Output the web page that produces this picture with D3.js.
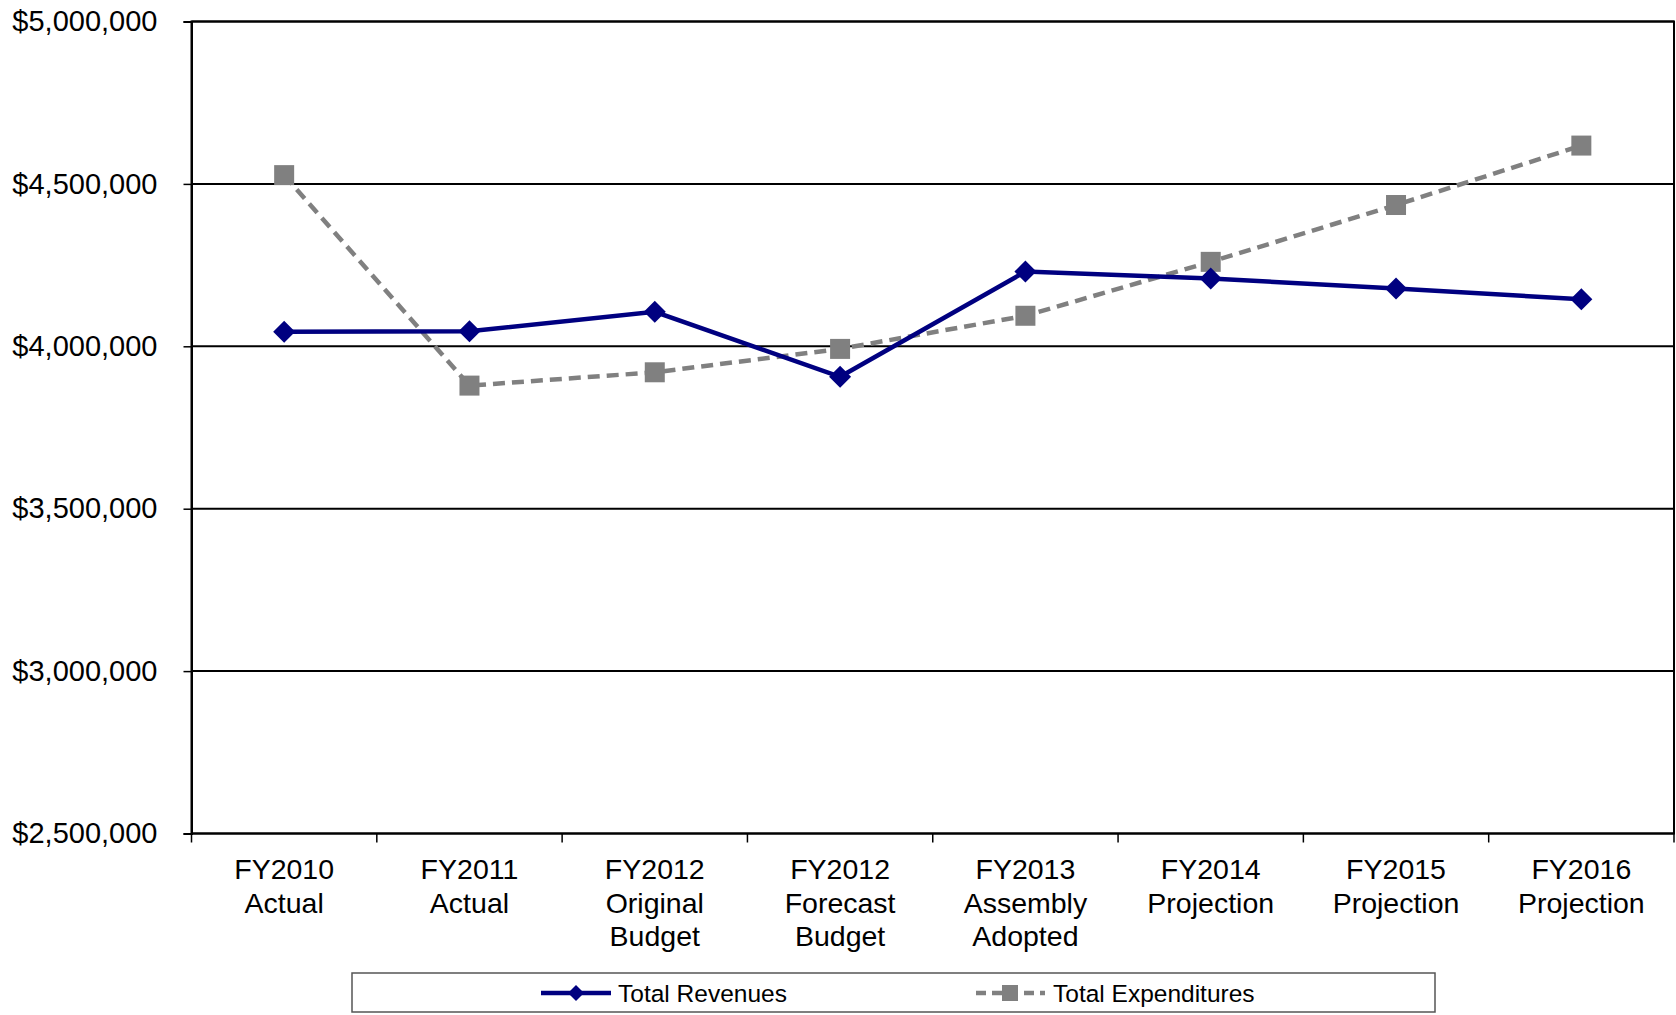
<!DOCTYPE html>
<html>
<head>
<meta charset="utf-8">
<script src="https://cdn.jsdelivr.net/npm/d3@7"></script>
<style>
  html, body { margin: 0; padding: 0; background: #fff; }
  svg { display: block; font-family: "Liberation Sans", Arial, sans-serif; }
</style>
</head>
<body>
<svg id="chart" width="1676" height="1015"></svg>
<script>
const categories = [
  ["FY2010", "Actual"],
  ["FY2011", "Actual"],
  ["FY2012", "Original", "Budget"],
  ["FY2012", "Forecast", "Budget"],
  ["FY2013", "Assembly", "Adopted"],
  ["FY2014", "Projection"],
  ["FY2015", "Projection"],
  ["FY2016", "Projection"]
];
const totalRevenues = [4045000, 4046000, 4106000, 3906000, 4230000, 4209000, 4178000, 4145000];
const totalExpenditures = [4527000, 3879000, 3920000, 3992000, 4094000, 4260000, 4435000, 4618000];
const yTicks = [2500000, 3000000, 3500000, 4000000, 4500000, 5000000];
const seriesNames = ["Total Revenues", "Total Expenditures"];

const svg = d3.select("#chart");
const m = { left: 191.5, right: 1674, top: 21.5, bottom: 833.5 };

const x = d3.scaleBand().domain(d3.range(categories.length)).range([m.left, m.right]).padding(0);
const y = d3.scaleLinear().domain([2500000, 5000000]).range([m.bottom, m.top]);

// gridlines
svg.append("g").selectAll("line").data(yTicks).join("line")
  .attr("x1", m.left).attr("x2", m.right)
  .attr("y1", d => y(d)).attr("y2", d => y(d))
  .attr("stroke", "#000").attr("stroke-width", 2);

// plot frame
svg.append("rect")
  .attr("x", m.left).attr("y", m.top)
  .attr("width", m.right - m.left).attr("height", m.bottom - m.top)
  .attr("fill", "none").attr("stroke", "#000").attr("stroke-width", 2);

// y axis
const fmt = d3.format("$,.0f");
const yAxis = svg.append("g").attr("transform", `translate(${m.left},0)`)
  .call(d3.axisLeft(y).tickValues(yTicks).tickFormat(fmt).tickSize(8).tickPadding(26));
yAxis.attr("font-family", null).attr("font-size", null);
yAxis.select(".domain").attr("stroke", "#000").attr("stroke-width", 2);
yAxis.selectAll(".tick line").attr("stroke", "#000").attr("stroke-width", 1.5);
yAxis.selectAll(".tick text").attr("font-size", 29).attr("fill", "#000");

// x axis ticks at category boundaries
const bounds = d3.range(categories.length + 1).map(i => m.left + i * x.bandwidth());
svg.append("g").selectAll("line").data(bounds).join("line")
  .attr("x1", d => d).attr("x2", d => d)
  .attr("y1", m.bottom).attr("y2", m.bottom + 9)
  .attr("stroke", "#000").attr("stroke-width", 1.5);

// x labels
const xl = svg.append("g").selectAll("text").data(categories).join("text")
  .attr("x", (d, i) => x(i) + x.bandwidth() / 2)
  .attr("y", 879)
  .attr("text-anchor", "middle")
  .attr("font-size", 28.5)
  .attr("fill", "#000");
xl.selectAll("tspan").data(d => d).join("tspan")
  .attr("x", function() { return d3.select(this.parentNode).attr("x"); })
  .attr("dy", (d, i) => i === 0 ? 0 : 33.6)
  .text(d => d);

const cx = i => x(i) + x.bandwidth() / 2;
const line = d3.line().x((d, i) => cx(i)).y(d => y(d));

// expenditures
svg.append("path").datum(totalExpenditures)
  .attr("d", line).attr("fill", "none")
  .attr("stroke", "#808080").attr("stroke-width", 4.5)
  .attr("stroke-dasharray", "12,7");
svg.append("g").selectAll("rect").data(totalExpenditures).join("rect")
  .attr("x", (d, i) => cx(i) - 10).attr("y", d => y(d) - 10)
  .attr("width", 20).attr("height", 20).attr("fill", "#808080");

// revenues
svg.append("path").datum(totalRevenues)
  .attr("d", line).attr("fill", "none")
  .attr("stroke", "#000080").attr("stroke-width", 4.5);
const diamond = s => `M0,${-s}L${s},0L0,${s}L${-s},0Z`;
svg.append("g").selectAll("path").data(totalRevenues).join("path")
  .attr("transform", (d, i) => `translate(${cx(i)},${y(d)})`)
  .attr("d", diamond(11)).attr("fill", "#000080");

// legend
const lg = svg.append("g");
lg.append("rect").attr("x", 352).attr("y", 973).attr("width", 1083).attr("height", 39)
  .attr("fill", "#fff").attr("stroke", "#555").attr("stroke-width", 1.5);
lg.append("line").attr("x1", 541).attr("x2", 611).attr("y1", 993).attr("y2", 993)
  .attr("stroke", "#000080").attr("stroke-width", 4.5);
lg.append("path").attr("transform", "translate(576,993)").attr("d", diamond(8)).attr("fill", "#000080");
lg.append("text").attr("x", 618).attr("y", 1001.5).attr("font-size", 24.5).attr("fill", "#000").text(seriesNames[0]);
lg.append("line").attr("x1", 976).attr("x2", 1045).attr("y1", 993).attr("y2", 993)
  .attr("stroke", "#808080").attr("stroke-width", 4.5).attr("stroke-dasharray", "10,6");
lg.append("rect").attr("x", 1002).attr("y", 985).attr("width", 16).attr("height", 16).attr("fill", "#808080");
lg.append("text").attr("x", 1053).attr("y", 1001.5).attr("font-size", 24.5).attr("fill", "#000").text(seriesNames[1]);
</script>
</body>
</html>
